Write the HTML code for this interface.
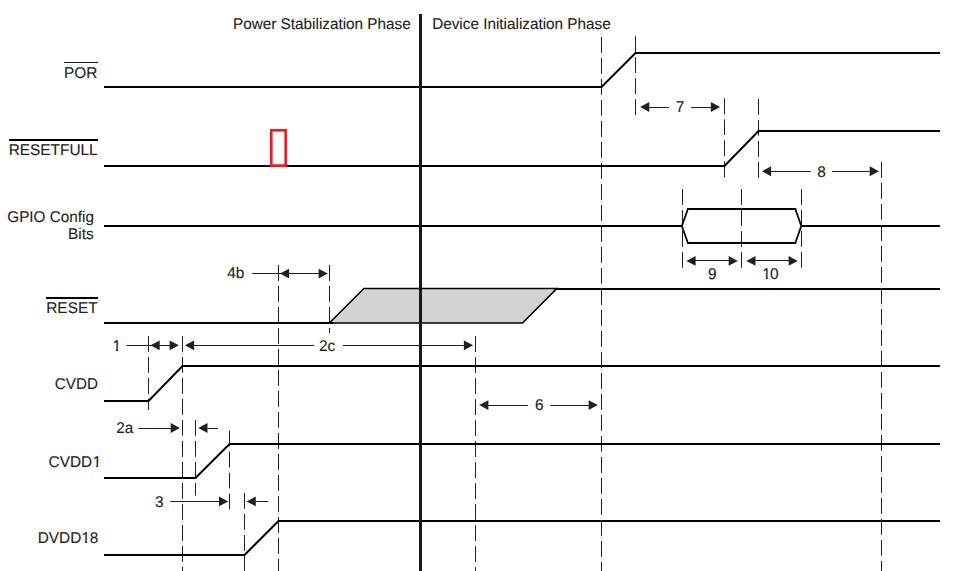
<!DOCTYPE html>
<html lang="en">
<head>
<meta charset="utf-8">
<title>Power-up timing diagram</title>
<style>
html,body{margin:0;padding:0;background:#fff;}
body{width:963px;height:571px;overflow:hidden;}
svg{display:block;}
text{font-family:"Liberation Sans",Arial,Helvetica,sans-serif;fill:#231f20;stroke:#231f20;stroke-width:0.12;stroke-linejoin:round;text-rendering:geometricPrecision;}
.s{fill:none;stroke:#000;stroke-width:2.0;stroke-linejoin:miter;stroke-linecap:butt;}
.b{stroke-linejoin:round;stroke-width:1.8;}
.t{stroke:#231f20;stroke-width:1.0;}
.d{stroke:#231f20;stroke-width:1.0;stroke-dasharray:15.8 5.2;}
.o{stroke:#000;stroke-width:2;}
.a{fill:#231f20;}
.g{fill:#d1d3d4;stroke:#000;stroke-width:1.6;stroke-linejoin:miter;}
</style>
</head>
<body>
<svg width="963" height="571" viewBox="0 0 963 571" role="img" aria-label="Power-up sequencing timing diagram">
<rect width="963" height="571" fill="#fff"/>
<line class="d" x1="148.5" y1="336" x2="148.5" y2="410"/>
<line class="d" x1="182.5" y1="336" x2="182.5" y2="571"/>
<line class="d" x1="195.5" y1="420" x2="195.5" y2="495.7"/>
<line class="d" x1="229.5" y1="430.6" x2="229.5" y2="509.6"/>
<line class="d" x1="244.5" y1="493" x2="244.5" y2="571"/>
<line class="d" x1="278.5" y1="265" x2="278.5" y2="571"/>
<line class="d" x1="329.5" y1="265" x2="329.5" y2="333"/>
<line class="d" x1="475.5" y1="336.2" x2="475.5" y2="571"/>
<line class="d" x1="601.5" y1="37" x2="601.5" y2="571"/>
<line class="d" x1="635.5" y1="36.2" x2="635.5" y2="115"/>
<line class="d" x1="724.5" y1="98.3" x2="724.5" y2="177.8"/>
<line class="d" x1="758.5" y1="99" x2="758.5" y2="177.8"/>
<line class="d" x1="682.5" y1="189.1" x2="682.5" y2="267.8"/>
<line class="d" x1="741.5" y1="189.1" x2="741.5" y2="267.8"/>
<line class="d" x1="801.5" y1="189.1" x2="801.5" y2="267.8"/>
<line class="d" x1="881.5" y1="162" x2="881.5" y2="571"/>
<polygon class="g" points="329.4,323.0 363.9,288.45 556.8,288.45 522.5,323.0"/>
<polyline class="s" points="104,87 601.5,87 635.5,53 940,53"/>
<polyline class="s" points="104,166 724.5,166 758.5,131 940,131"/>
<polyline class="s" points="104,226 682,226"/>
<polyline class="s" points="801.5,226 940,226"/>
<polyline class="s b" points="687.9,209 681.8,226 687.9,243"/>
<polyline class="s b" points="795.3,209 801.3,226 795.3,243"/>
<polyline class="s" points="687,209 796.2,209"/>
<polyline class="s" points="687,243 796.2,243"/>
<polyline class="s" points="104,323 333.5,323"/>
<polyline class="s" points="554,289 940,289"/>
<polyline class="s" points="104,401 148.5,401 182.5,366 940,366"/>
<polyline class="s" points="104,478 195.5,478 229.5,444 940,444"/>
<polyline class="s" points="104,555 244.5,555 278.5,521 940,521"/>
<line x1="420.5" y1="14" x2="420.5" y2="571" stroke="#1a1718" stroke-width="3"/>
<rect x="271.3" y="130.3" width="14.4" height="35.3" fill="none" stroke="#ed1c24" stroke-width="2.7"/>
<polygon class="a" points="640.10,107.00 649.30,102.10 649.30,111.90"/>
<line class="t" x1="649" y1="107.5" x2="669" y2="107.5"/>
<line class="t" x1="691.2" y1="107.5" x2="711.5" y2="107.5"/>
<polygon class="a" points="720.10,107.00 710.90,102.10 710.90,111.90"/>
<text transform="translate(675.70 112) scale(0.9935 1)" font-size="15.5">7</text>
<polygon class="a" points="761.90,171.25 771.10,166.35 771.10,176.15"/>
<line class="t" x1="771" y1="171.5" x2="810.8" y2="171.5"/>
<line class="t" x1="832.2" y1="171.5" x2="870" y2="171.5"/>
<polygon class="a" points="878.90,171.25 869.70,166.35 869.70,176.15"/>
<text transform="translate(817.20 177) scale(0.9935 1)" font-size="15.5">8</text>
<polygon class="a" points="686.40,260.90 695.60,256.00 695.60,265.80"/>
<line class="t" x1="695" y1="260.5" x2="729.5" y2="260.5"/>
<polygon class="a" points="737.90,260.90 728.70,256.00 728.70,265.80"/>
<text transform="translate(708.00 279) scale(0.9935 1)" font-size="15.5">9</text>
<polygon class="a" points="746.30,260.90 755.50,256.00 755.50,265.80"/>
<line class="t" x1="755" y1="260.5" x2="789" y2="260.5"/>
<polygon class="a" points="797.80,260.90 788.60,256.00 788.60,265.80"/>
<text transform="translate(761.45 279) scale(0.9935 1)" font-size="15.5" x="0.81 8.62">10</text>
<line class="t" x1="252.2" y1="273.5" x2="288" y2="273.5"/>
<polygon class="a" points="279.90,273.55 289.10,268.65 289.10,278.45"/>
<line class="t" x1="288" y1="273.5" x2="319" y2="273.5"/>
<polygon class="a" points="327.80,273.55 318.60,268.65 318.60,278.45"/>
<text transform="translate(227.30 278) scale(0.9935 1)" font-size="15.5">4b</text>
<line class="t" x1="126.3" y1="345.5" x2="160" y2="345.5"/>
<polygon class="a" points="150.50,345.30 159.70,340.40 159.70,350.20"/>
<line class="t" x1="160" y1="345.5" x2="170" y2="345.5"/>
<polygon class="a" points="178.80,345.30 169.60,340.40 169.60,350.20"/>
<text transform="translate(112.50 351) scale(0.9935 1)" font-size="15.5">1</text>
<polygon class="a" points="184.90,345.30 194.10,340.40 194.10,350.20"/>
<line class="t" x1="194" y1="345.5" x2="314.2" y2="345.5"/>
<line class="t" x1="343" y1="345.5" x2="464.5" y2="345.5"/>
<polygon class="a" points="473.10,345.30 463.90,340.40 463.90,350.20"/>
<text transform="translate(318.90 351) scale(0.9935 1)" font-size="15.5">2c</text>
<polygon class="a" points="479.20,405.10 488.40,400.20 488.40,410.00"/>
<line class="t" x1="488" y1="405.5" x2="528" y2="405.5"/>
<line class="t" x1="550.3" y1="405.5" x2="589" y2="405.5"/>
<polygon class="a" points="597.80,405.10 588.60,400.20 588.60,410.00"/>
<text transform="translate(534.97 410) scale(0.9935 1)" font-size="15.5">6</text>
<line class="t" x1="138.3" y1="428.5" x2="171.5" y2="428.5"/>
<polygon class="a" points="179.90,428.00 170.70,423.10 170.70,432.90"/>
<polygon class="a" points="198.30,428.00 207.50,423.10 207.50,432.90"/>
<line class="t" x1="207.5" y1="428.5" x2="218" y2="428.5"/>
<text transform="translate(116.25 433) scale(0.9935 1)" font-size="15.5">2a</text>
<line class="t" x1="170.3" y1="501.5" x2="219.5" y2="501.5"/>
<polygon class="a" points="228.20,501.45 219.00,496.55 219.00,506.35"/>
<polygon class="a" points="246.60,501.45 255.80,496.55 255.80,506.35"/>
<line class="t" x1="256" y1="501.5" x2="268.3" y2="501.5"/>
<text transform="translate(155.06 507) scale(0.9935 1)" font-size="15.5">3</text>
<text transform="translate(233.00 29) scale(0.9871 1)" font-size="15.5">Power Stabilization Phase</text>
<text transform="translate(432.15 29) scale(0.9871 1)" font-size="15.5">Device Initialization Phase</text>
<text transform="translate(63.95 78) scale(0.9935 1)" font-size="15.5">POR</text>
<line x1="64" y1="62.5" x2="98" y2="62.5" stroke="#231f20" stroke-width="1.15"/>
<text transform="translate(8.64 155) scale(0.9935 1)" font-size="15.5">RESETFULL</text>
<line class="o" x1="9" y1="140" x2="98" y2="140"/>
<text transform="translate(7.25 222) scale(0.9871 1)" font-size="15.5">GPIO Config</text>
<text transform="translate(68.00 239) scale(0.9935 1)" font-size="15.5">Bits</text>
<text transform="translate(46.25 313) scale(0.9935 1)" font-size="15.5">RESET</text>
<line class="o" x1="46" y1="298" x2="98" y2="298"/>
<text transform="translate(54.80 389) scale(0.9839 1)" font-size="15.5">CVDD</text>
<text transform="translate(48.60 467) scale(0.9935 1)" font-size="15.5" x="0.00 11.19 21.53 32.73 44.42">CVDD1</text>
<text transform="translate(37.65 543) scale(0.9935 1)" font-size="15.5" x="0.00 11.19 21.53 32.73 44.22 52.54">DVDD18</text>
<rect x="762.42" y="277.00" width="3.40" height="3.00" fill="#fff"/>
<rect x="767.78" y="277.00" width="3.28" height="3.00" fill="#fff"/>
<rect x="112.67" y="349.00" width="3.40" height="3.00" fill="#fff"/>
<rect x="118.03" y="349.00" width="3.28" height="3.00" fill="#fff"/>
<rect x="92.91" y="465.00" width="3.40" height="3.00" fill="#fff"/>
<rect x="98.27" y="465.00" width="3.28" height="3.00" fill="#fff"/>
<rect x="81.76" y="541.00" width="3.40" height="3.00" fill="#fff"/>
<rect x="87.12" y="541.00" width="3.28" height="3.00" fill="#fff"/>
</svg>
</body>
</html>
